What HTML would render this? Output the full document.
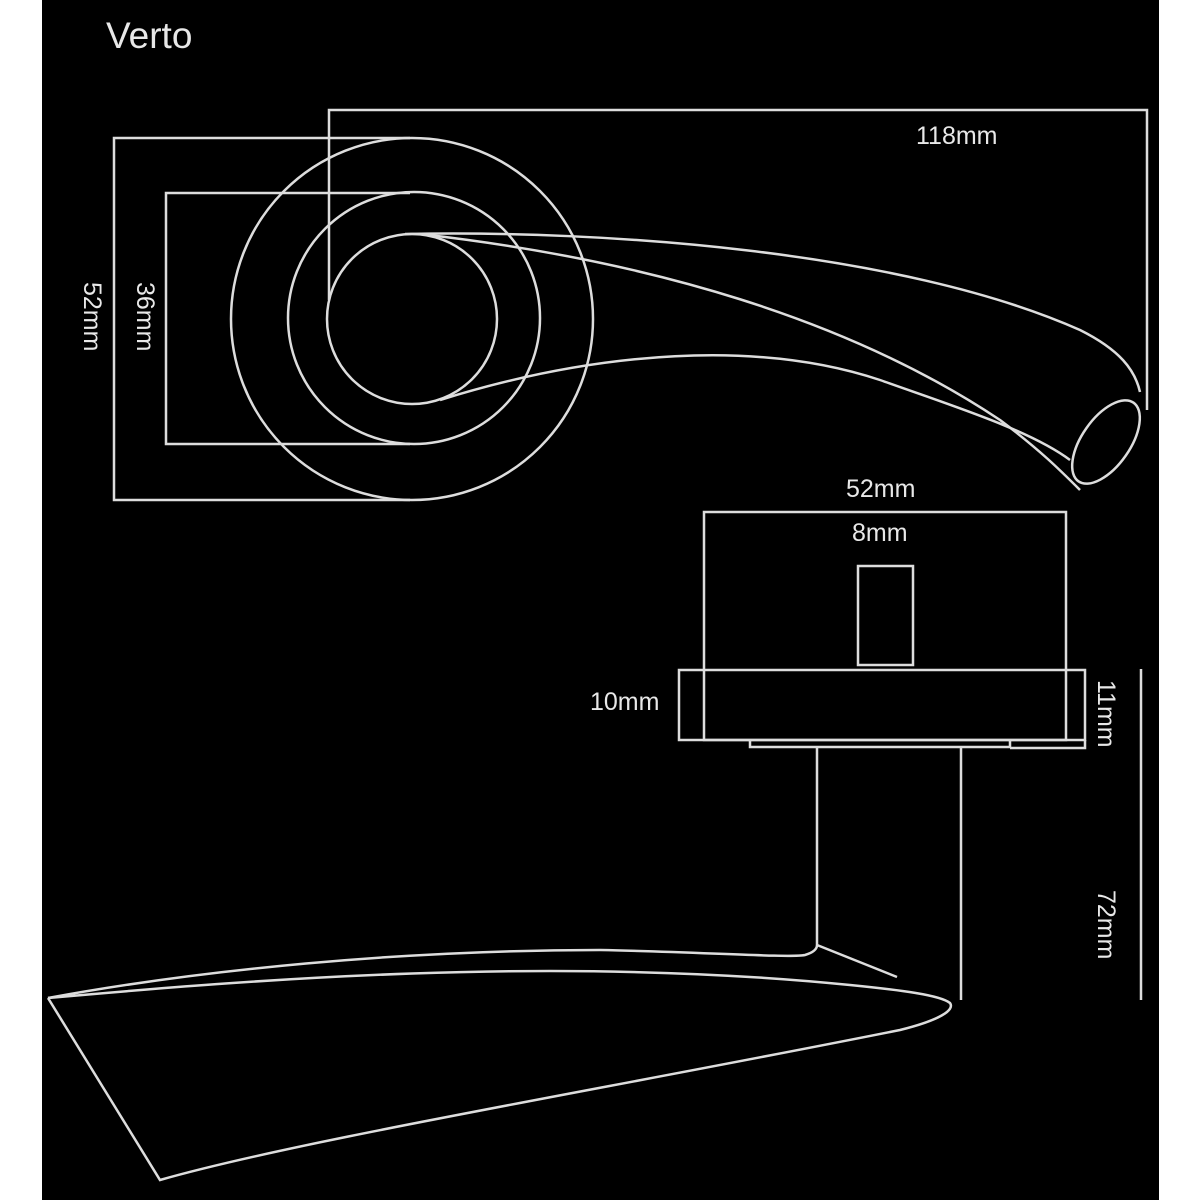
<!DOCTYPE html>
<html><head><style>
html,body{margin:0;padding:0;background:#fff}
svg{display:block}
text{font-family:"Liberation Sans",sans-serif;fill:#e8e8e8}
</style></head><body>
<svg width="1200" height="1200" viewBox="0 0 1200 1200">
<rect x="0" y="0" width="1200" height="1200" fill="#fff"/>
<rect x="42" y="0" width="1117" height="1200" fill="#000"/>
<g fill="none" stroke="#ddd" stroke-width="2.5">
<polyline points="410,138 114,138 114,500 410,500"/>
<polyline points="410,193 166,193 166,444 410,444"/>
<polyline points="329,300 329,110 1147,110 1147,410"/>
<circle cx="412" cy="319" r="181"/>
<circle cx="414" cy="318" r="126"/>
<circle cx="412" cy="319" r="85"/>
<path d="M405,234 C600,230 900,250 1080,330 C1120,350 1135,370 1140,392"/>
<path d="M420,234 C650,260 850,320 1000,420 C1040,450 1060,470 1080,490"/>
<path d="M440,400 C600,350 760,340 880,380 C950,405 1030,430 1070,460"/>
<ellipse cx="1106" cy="442" rx="48" ry="24" transform="rotate(-55 1106 442)"/>
<rect x="704" y="512" width="362" height="228"/>
<rect x="858" y="566" width="55" height="99"/>
<rect x="679" y="670" width="406" height="70"/>
<polyline points="1010,748 1085,748 1085,740"/>
<polyline points="750,740 750,747 1010,747 1010,740"/>
<line x1="817" y1="747" x2="817" y2="945"/>
<line x1="961" y1="747" x2="961" y2="1000"/>
<line x1="1141" y1="669" x2="1141" y2="1000"/>
<path d="M48,998 C200,970 400,950 600,950 C700,952 790,958 805,955 C815,952 817,948 817,945"/>
<path d="M817,945 L897,977"/>
<path d="M48,998 C250,980 550,955 850,985 C900,990 940,995 950,1003 C955,1010 940,1020 900,1030 C600,1090 300,1140 160,1180 L48,998"/>
</g>
<text x="106" y="48" style="font-size:37px">Verto</text>
<g style="font-size:25px">
<text x="916" y="144">118mm</text>
<text x="846" y="497">52mm</text>
<text x="852" y="541">8mm</text>
<text x="590" y="710">10mm</text>
<text transform="translate(84,282) rotate(90)">52mm</text>
<text transform="translate(137,282) rotate(90)">36mm</text>
<text transform="translate(1098,680) rotate(90)">11mm</text>
<text transform="translate(1098,890) rotate(90)">72mm</text>
</g>
</svg>
</body></html>
